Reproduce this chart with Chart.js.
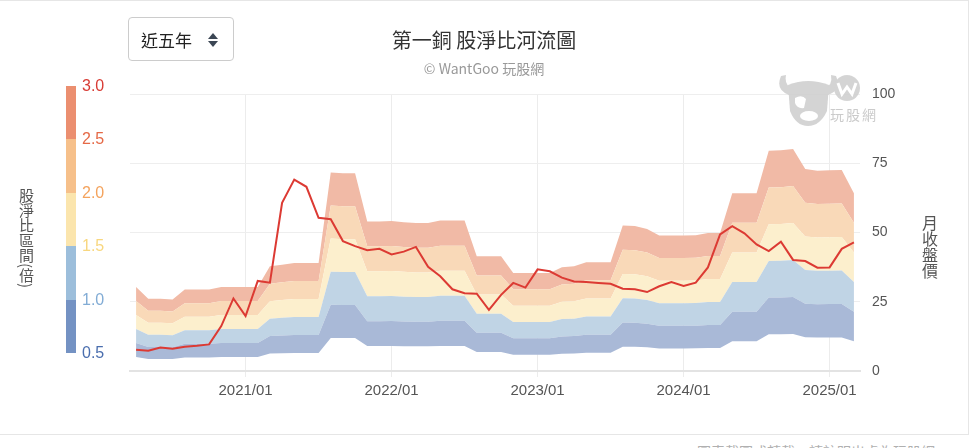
<!DOCTYPE html>
<html lang="zh-Hant">
<head>
<meta charset="utf-8">
<title>第一銅 股淨比河流圖</title>
<script src="https://cdn.jsdelivr.net/npm/chart.js@4.4.1/dist/chart.umd.min.js"></script>
<style>
    body {
        margin: 0;
        width: 970px;
        height: 448px;
        overflow: hidden;
        position: relative;
        background: #fff;
        font-family: "Liberation Sans", "Noto Sans CJK TC", sans-serif;
    }
    .card {
        position: absolute;
        left: -1px;
        top: 0;
        width: 968px;
        height: 433px;
        border: 1px solid #e6e6e6;
    }
    #chartBox {
        position: absolute;
        left: 0;
        top: 0;
        width: 970px;
        height: 434px;
    }
    .range-select {
        position: absolute;
        left: 128px;
        top: 17px;
        width: 104px;
        height: 42px;
        border: 1px solid #ccc;
        border-radius: 4px;
        box-sizing: content-box;
        font-family: "Noto Sans CJK TC", sans-serif;
        font-size: 17px;
        color: #222;
    }
    .range-select span {
        position: absolute;
        left: 12px;
        top: 9px;
    }
    .range-select svg {
        position: absolute;
        left: 78px;
        top: 14px;
    }
    .chart-title {
        position: absolute;
        left: 0;
        width: 968px;
        text-align: center;
        font-family: "Noto Sans CJK TC", sans-serif;
    }
    .vertical-title {
        position: absolute;
        writing-mode: vertical-rl;
        font-family: "Noto Sans CJK TC", sans-serif;
        color: #555;
        line-height: 1;
    }
    .legend-bar {
        position: absolute;
        left: 66px;
        top: 86px;
        width: 10px;
        height: 267px;
    }
    .legend-label {
        position: absolute;
        left: 82px;
        font-size: 16px;
        line-height: 16px;
    }
    .watermark-text {
        position: absolute;
        left: 830px;
        top: 104px;
        font-family: "Noto Sans CJK TC", sans-serif;
        font-size: 14px;
        letter-spacing: 2px;
        color: #cbcbcb;
    }
    .footer-note {
        position: absolute;
        left: 697px;
        top: 441px;
        font-family: "Noto Sans CJK TC", sans-serif;
        font-size: 14px;
        color: #b0b0b0;
        white-space: nowrap;
    }
</style>
</head>
<body>
<div class="card"></div>

<div id="chartBox"><canvas id="pbrRiverChart"></canvas></div>

<div class="range-select">
    <span>近五年</span>
    <svg width="12" height="16" viewBox="0 0 12 16">
        <path d="M6 1 L11 7 L1 7 Z" fill="#3b4654"/>
        <path d="M1 9 L11 9 L6 15 Z" fill="#3b4654"/>
    </svg>
</div>

<div class="chart-title" style="top:25px;font-size:20px;color:#333;">第一銅 股淨比河流圖</div>
<div class="chart-title" style="top:58px;font-size:14px;color:#999;">© WantGoo 玩股網</div>

<div class="vertical-title" style="left:19px;top:188px;font-size:15px;">股淨比區間(倍)</div>
<div class="vertical-title" style="left:922px;top:215px;font-size:16px;">月收盤價</div>

<div class="legend-bar" id="legendBar"></div>
<div id="legendLabels"></div>

<svg width="92" height="62" viewBox="0 0 92 62" style="position:absolute;left:773px;top:68px;opacity:0.85">
    <path d="M8 8 Q2 22 16 27 L20 20 Q11 18 13 7 Z" fill="#cdcdcd"/>
    <path d="M58 7 Q60 18 51 20 L55 27 Q69 22 63 8 Z" fill="#cdcdcd"/>
    <path d="M15 17 Q35 9 56 17 L54 43 Q47 58 35 58 Q23 58 17 43 Z" fill="#cdcdcd"/>
    <path d="M22 30 Q29 26 33 31 L31 40 Q24 41 22 35 Z" fill="#fff"/>
    <ellipse cx="36" cy="48" rx="9" ry="5" fill="#fff"/>
    <circle cx="74" cy="20" r="13" fill="#cdcdcd"/>
    <path d="M65 15 L69 26 L74 19 L79 26 L83 15" stroke="#fff" stroke-width="3" fill="none"/>
</svg>
<div class="watermark-text">玩股網</div>

<div class="footer-note">圖表截圖或轉載，請註明出處為玩股網</div>

<script>
const months = [
    '2020/04', '2020/05', '2020/06', '2020/07', '2020/08', '2020/09', '2020/10', '2020/11', '2020/12',
    '2021/01', '2021/02', '2021/03', '2021/04', '2021/05', '2021/06', '2021/07', '2021/08', '2021/09',
    '2021/10', '2021/11', '2021/12', '2022/01', '2022/02', '2022/03', '2022/04', '2022/05', '2022/06',
    '2022/07', '2022/08', '2022/09', '2022/10', '2022/11', '2022/12', '2023/01', '2023/02', '2023/03',
    '2023/04', '2023/05', '2023/06', '2023/07', '2023/08', '2023/09', '2023/10', '2023/11', '2023/12',
    '2024/01', '2024/02', '2024/03', '2024/04', '2024/05', '2024/06', '2024/07', '2024/08', '2024/09',
    '2024/10', '2024/11', '2024/12', '2025/01', '2025/02', '2025/03'
];

const bookValue = [
    10.1, 8.7, 8.7, 8.6, 9.8, 9.8, 9.8, 10.1, 10.1,
    10.1, 10.1, 12.6, 12.8, 13.0, 13.0, 13.0, 23.9, 23.8,
    23.8, 18.0, 18.0, 18.05, 17.9, 17.8, 17.8, 18.1, 18.1,
    18.1, 13.8, 13.8, 13.8, 11.8, 11.8, 11.8, 11.8, 12.5,
    12.6, 13.1, 13.1, 13.1, 17.5, 17.45, 17.1, 16.3, 16.3,
    16.3, 16.35, 16.6, 16.6, 21.4, 21.4, 21.4, 26.5, 26.55,
    26.7, 24.3, 24.1, 24.15, 24.2, 21.4
];

// 月收盤價
const closePrice = [
    7.7, 7.3, 8.5, 8.0, 8.75, 9.1, 9.6, 16.2, 26.2,
    19.8, 32.5, 31.9, 60.7, 69.1, 66.5, 55.3, 54.8, 46.9,
    45.1, 43.6, 44.1, 42.1, 43.1, 44.8, 37.6, 34.2, 29.5,
    28.1, 27.9, 22.1, 27.5, 31.8, 30.1, 36.7, 36.0, 33.7,
    32.3, 32.1, 31.8, 31.5, 29.7, 29.5, 28.5, 30.6, 32.1,
    30.7, 31.9, 37.4, 49.3, 52.3, 49.7, 45.7, 43.3, 46.7,
    40.1, 39.7, 37.3, 37.4, 44.1, 46.4
];

const pbrMultiples = [0.5, 1.0, 1.5, 2.0, 2.5, 3.0];
const legendTicks = ['0.5', '1.0', '1.5', '2.0', '2.5', '3.0'];
const priceTicks = [0, 25, 50, 75, 100];

const bandFill = ['#a9b9d7', '#c0d4e5', '#fcefcd', '#f9d9b8', '#f1baa6'];
const legendFill = ['#7492c3', '#9cbedb', '#fbe5ad', '#f6c08a', '#eb8f70'];
const legendTextColor = ['#4a6eae', '#82acd5', '#f8d77f', '#f4a35d', '#e56946', '#d83c35'];

function buildLegend() {
    const bar = document.getElementById('legendBar');
    const labels = document.getElementById('legendLabels');
    const segH = 267 / legendFill.length;

    // top segment is the highest band
    legendFill.slice().reverse().forEach(color => {
        const seg = document.createElement('div');
        seg.style.height = segH + 'px';
        seg.style.background = color;
        bar.appendChild(seg);
    });

    legendTicks.forEach((text, i) => {
        const lab = document.createElement('div');
        lab.className = 'legend-label';
        lab.textContent = text;
        lab.style.color = legendTextColor[i];
        lab.style.top = (86 + 267 - i * segH - 8) + 'px';
        labels.appendChild(lab);
    });
}

function isJanuary(index) {
    return months[index] && months[index].endsWith('/01');
}

function initChart() {
    const ctx = document.getElementById('pbrRiverChart').getContext('2d');

    const bandSets = pbrMultiples.map((m, k) => ({
        label: m.toFixed(1) + '倍',
        data: bookValue.map(b => Math.round(b * m * 100) / 100),
        borderWidth: 0,
        pointRadius: 0,
        backgroundColor: k === 0 ? 'rgba(0,0,0,0)' : bandFill[k - 1],
        fill: k === 0 ? false : '-1',
        tension: 0,
        order: 1
    }));

    new Chart(ctx, {
        type: 'line',
        data: {
            labels: months,
            datasets: [
                ...bandSets,
                {
                    label: '月收盤價',
                    data: closePrice,
                    borderColor: '#dc3a33',
                    borderWidth: 2,
                    pointRadius: 0,
                    fill: false,
                    tension: 0,
                    order: 0
                }
            ]
        },
        options: {
            responsive: true,
            maintainAspectRatio: false,
            animation: false,
            events: [],
            layout: {
                padding: { left: 130, right: 0, top: 94, bottom: 23 }
            },
            scales: {
                x: {
                    type: 'category',
                    offset: true,
                    grid: {
                        offset: false,
                        drawOnChartArea: true,
                        tickLength: 6,
                        color: c => isJanuary(c.index) ? '#ececec' : 'rgba(0,0,0,0)'
                    },
                    border: { display: true, color: '#e3e3e3', width: 2 },
                    ticks: {
                        autoSkip: false,
                        maxRotation: 0,
                        padding: 5,
                        color: '#555',
                        font: { size: 15, family: '"Liberation Sans", sans-serif' },
                        callback: function (value, index) {
                            return isJanuary(index) ? months[index] : '';
                        }
                    },
                    afterFit: scale => { scale.height = 40; }
                },
                y: {
                    position: 'right',
                    min: 0,
                    max: 100,
                    afterBuildTicks: scale => {
                        scale.ticks = priceTicks.map(v => ({ value: v }));
                    },
                    grid: { color: '#eeeeee', drawTicks: false },
                    border: { display: false },
                    ticks: {
                        padding: 12,
                        color: '#555',
                        font: { size: 14, family: '"Liberation Sans", sans-serif' }
                    },
                    afterFit: scale => { scale.width = 110; }
                }
            },
            plugins: {
                legend: { display: false },
                tooltip: { enabled: false },
                title: { display: false }
            }
        }
    });
}

document.addEventListener('DOMContentLoaded', function () {
    buildLegend();
    initChart();
});
</script>
</body>
</html>
